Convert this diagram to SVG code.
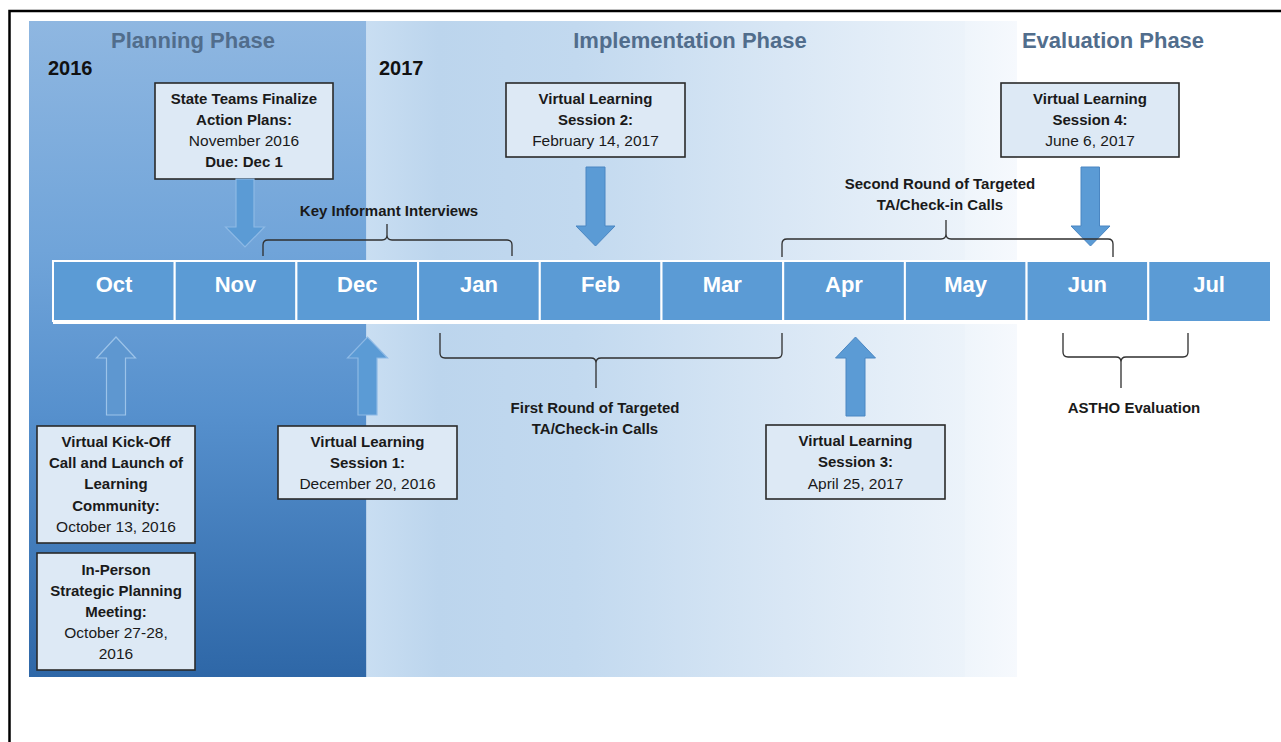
<svg xmlns="http://www.w3.org/2000/svg" width="1281" height="742" viewBox="0 0 1281 742">
  <defs>
    <linearGradient id="gPlan" x1="0" y1="0" x2="0" y2="1">
      <stop offset="0" stop-color="#8fb7e1"/>
      <stop offset="0.35" stop-color="#70a4d9"/>
      <stop offset="0.6" stop-color="#5690cd"/>
      <stop offset="1" stop-color="#2e67a7"/>
    </linearGradient>
    <linearGradient id="gImpl" x1="0" y1="0" x2="1" y2="0">
      <stop offset="0" stop-color="#c9def2"/>
      <stop offset="0.12" stop-color="#bcd5ed"/>
      <stop offset="0.35" stop-color="#c2d9ef"/>
      <stop offset="0.7" stop-color="#d9e7f5"/>
      <stop offset="1" stop-color="#ecf3fa"/>
    </linearGradient>
    <linearGradient id="gEval" x1="0" y1="0" x2="1" y2="0">
      <stop offset="0" stop-color="#eff5fb"/>
      <stop offset="1" stop-color="#f6f9fd"/>
    </linearGradient>
  </defs>
  <style>
    .phase { font-family: "Liberation Sans", Arial, sans-serif; font-weight: bold; font-size: 22px; fill: #516d8c; text-anchor: middle; }
    .year { font-family: "Liberation Sans", Arial, sans-serif; font-weight: bold; font-size: 20px; fill: #111; }
    .month { font-family: "Liberation Sans", Arial, sans-serif; font-weight: bold; font-size: 22px; fill: #ffffff; text-anchor: middle; }
    .cell { fill: #5b9bd5; stroke: #ffffff; stroke-width: 2; }
    .box { fill: #dde9f5; stroke: #2a2a2a; stroke-width: 1.6; }
    .bt { font-family: "Liberation Sans", Arial, sans-serif; font-weight: bold; font-size: 15px; fill: #1a1a1a; text-anchor: middle; }
    .rt { font-family: "Liberation Sans", Arial, sans-serif; font-size: 15.5px; fill: #1a1a1a; text-anchor: middle; }
    .arrow { fill: #5b9bd5; stroke: #4a86c2; stroke-width: 1; }
    .arrow-soft { fill: #5b9bd5; stroke: #8db9e5; stroke-width: 1.2; }
    .arrow-hollow { fill: #5e97d0; stroke: #9cc3e9; stroke-width: 1.2; }
    .brace { fill: none; stroke: #2f2f2f; stroke-width: 1.3; }
    .frame { fill: none; stroke: #000; stroke-width: 2.5; }
  </style>

  <!-- page frame -->
  <path class="frame" d="M9.5,742 V11 H1281"/>

  <!-- phase backgrounds -->
  <g id="backgrounds">
    <rect x="29" y="21" width="337.5" height="656" fill="url(#gPlan)"/>
    <rect x="366.5" y="21" width="598.5" height="656" fill="url(#gImpl)"/>
    <rect x="965" y="21" width="52" height="656" fill="url(#gEval)"/>
  </g>

  <!-- phase titles and years -->
  <g id="headings">
    <text class="phase" x="193" y="48">Planning Phase</text>
    <text class="phase" x="690" y="48">Implementation Phase</text>
    <text class="phase" x="1113" y="48">Evaluation Phase</text>
    <text class="year" x="48" y="75">2016</text>
    <text class="year" x="379" y="75">2017</text>
  </g>

  <!-- month timeline -->
  <g id="timeline">
    <rect x="53" y="320" width="1217" height="4" fill="#ffffff"/>
    <rect class="cell" x="53" y="261" width="121.7" height="60"/>
    <rect class="cell" x="174.7" y="261" width="121.7" height="60"/>
    <rect class="cell" x="296.4" y="261" width="121.7" height="60"/>
    <rect class="cell" x="418.1" y="261" width="121.7" height="60"/>
    <rect class="cell" x="539.8" y="261" width="121.7" height="60"/>
    <rect class="cell" x="661.5" y="261" width="121.7" height="60"/>
    <rect class="cell" x="783.2" y="261" width="121.7" height="60"/>
    <rect class="cell" x="904.9" y="261" width="121.7" height="60"/>
    <rect class="cell" x="1026.6" y="261" width="121.7" height="60"/>
    <rect x="1148.3" y="261" width="121.7" height="60" fill="#5b9bd5"/>
    <path d="M1148.3,261 H1270 M1148.3,261 V321" stroke="#ffffff" stroke-width="2" fill="none"/>
    <text class="month" x="114" y="292">Oct</text>
    <text class="month" x="235.5" y="292">Nov</text>
    <text class="month" x="357.2" y="292">Dec</text>
    <text class="month" x="479" y="292">Jan</text>
    <text class="month" x="600.6" y="292">Feb</text>
    <text class="month" x="722.3" y="292">Mar</text>
    <text class="month" x="844" y="292">Apr</text>
    <text class="month" x="965.7" y="292">May</text>
    <text class="month" x="1087.4" y="292">Jun</text>
    <text class="month" x="1209.1" y="292">Jul</text>
  </g>

  <!-- milestone boxes above the timeline -->
  <g id="node-action-plans">
    <rect class="box" x="155" y="83" width="178" height="96"/>
    <text class="bt" x="244" y="104">State Teams Finalize</text>
    <text class="bt" x="244" y="125">Action Plans:</text>
    <text class="rt" x="244" y="146">November 2016</text>
    <text class="bt" x="244" y="167">Due: Dec 1</text>
  </g>
  <g id="node-session-2">
    <rect class="box" x="506" y="83" width="179" height="74"/>
    <text class="bt" x="595.5" y="104">Virtual Learning</text>
    <text class="bt" x="595.5" y="125">Session 2:</text>
    <text class="rt" x="595.5" y="146">February 14, 2017</text>
  </g>
  <g id="node-session-4">
    <rect class="box" x="1001" y="83" width="178" height="74"/>
    <text class="bt" x="1090" y="104">Virtual Learning</text>
    <text class="bt" x="1090" y="125">Session 4:</text>
    <text class="rt" x="1090" y="146">June 6, 2017</text>
  </g>

  <!-- milestone boxes below the timeline -->
  <g id="node-kickoff">
    <rect class="box" x="37" y="426" width="158" height="117"/>
    <text class="bt" x="116" y="447">Virtual Kick-Off</text>
    <text class="bt" x="116" y="468">Call and Launch of</text>
    <text class="bt" x="116" y="489">Learning</text>
    <text class="bt" x="116" y="511">Community:</text>
    <text class="rt" x="116" y="532">October 13, 2016</text>
  </g>
  <g id="node-in-person">
    <rect class="box" x="37" y="553" width="158" height="117"/>
    <text class="bt" x="116" y="575">In-Person</text>
    <text class="bt" x="116" y="596">Strategic Planning</text>
    <text class="bt" x="116" y="617">Meeting:</text>
    <text class="rt" x="116" y="638">October 27-28,</text>
    <text class="rt" x="116" y="659">2016</text>
  </g>
  <g id="node-session-1">
    <rect class="box" x="278" y="426" width="179" height="73"/>
    <text class="bt" x="367.5" y="447">Virtual Learning</text>
    <text class="bt" x="367.5" y="468">Session 1:</text>
    <text class="rt" x="367.5" y="489">December 20, 2016</text>
  </g>
  <g id="node-session-3">
    <rect class="box" x="766" y="425" width="179" height="74"/>
    <text class="bt" x="855.5" y="446">Virtual Learning</text>
    <text class="bt" x="855.5" y="467">Session 3:</text>
    <text class="rt" x="855.5" y="489">April 25, 2017</text>
  </g>

  <!-- arrows and braces -->
  <g id="connectors">
    <!-- down arrows -->
    <path class="arrow-soft" d="M236,179 H254 V227 H264.5 L245,247 L225.5,227 H236 Z"/>
    <path class="arrow" d="M586,167 H605 V226 H615 L595.5,246 L576,226 H586 Z"/>
    <path class="arrow" d="M1081,167 H1099.5 V226 H1110 L1090.5,246 L1071,226 H1081 Z"/>
    <!-- up arrows -->
    <path class="arrow-hollow" d="M106.5,415 H125.5 V358 H135.5 L116,337 L96.5,358 H106.5 Z"/>
    <path class="arrow-soft" d="M358,415 H377 V358 H387.5 L367.5,337 L347.5,358 H358 Z"/>
    <path class="arrow" d="M846,416 H865 V358 H875.5 L855.5,337 L835.5,358 H846 Z"/>

    <!-- braces above the timeline -->
    <path class="brace" d="M263,256 V245 Q263,240 268,240 H382 Q387,240 387,235 V224 M387,235 Q387,240 392,240 H507 Q512,240 512,245 V256"/>
    <path class="brace" d="M782,257 V244 Q782,239 787,239 H941 Q946,239 946,234 V220 M946,234 Q946,239 951,239 H1108 Q1113,239 1113,244 V257"/>
    <!-- braces below the timeline -->
    <path class="brace" d="M440,333 V353 Q440,358 445,358 H591 Q596,358 596,363 V388 M596,363 Q596,358 601,358 H777 Q782,358 782,353 V333"/>
    <path class="brace" d="M1063,333 V352 Q1063,357 1068,357 H1116 Q1121,357 1121,362 V388 M1121,362 Q1121,357 1126,357 H1183 Q1188,357 1188,352 V333"/>
  </g>

  <!-- brace labels -->
  <g id="label-key-informant">
    <text class="bt" x="389" y="216">Key Informant Interviews</text>
  </g>
  <g id="label-second-round">
    <text class="bt" x="940" y="189">Second Round of Targeted</text>
    <text class="bt" x="940" y="210">TA/Check-in Calls</text>
  </g>
  <g id="label-first-round">
    <text class="bt" x="595" y="413">First Round of Targeted</text>
    <text class="bt" x="595" y="434">TA/Check-in Calls</text>
  </g>
  <g id="label-astho">
    <text class="bt" x="1134" y="413">ASTHO Evaluation</text>
  </g>
</svg>
